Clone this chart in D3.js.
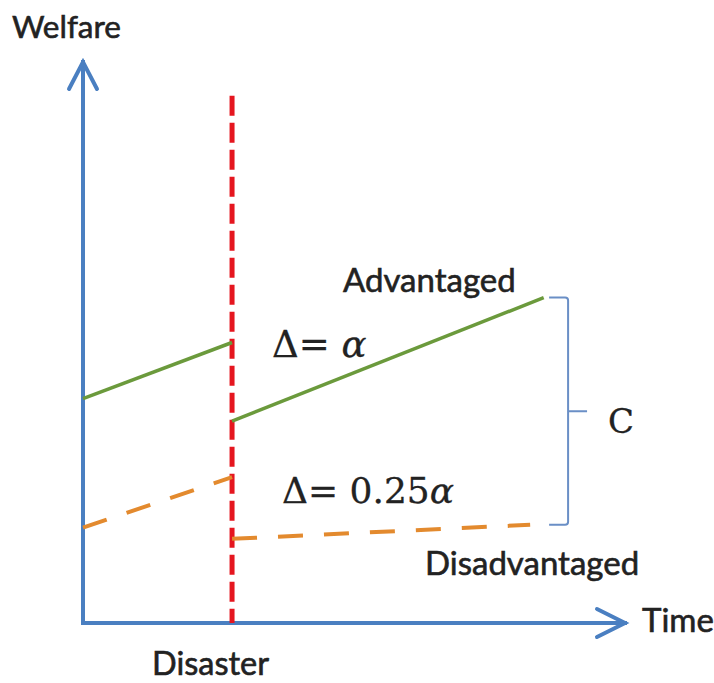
<!DOCTYPE html>
<html>
<head>
<meta charset="utf-8">
<script src="https://cdn.jsdelivr.net/npm/d3@7"></script>
<style>
  body { margin: 0; background: #fff; }
  .lbl { font-family: Lato, "Open Sans", sans-serif; fill: #222; stroke: #222; stroke-width: 0.6; }
  .math { font-family: "DejaVu Serif", "Liberation Serif", serif; fill: #222; stroke: #222; stroke-width: 0.3; }
</style>
</head>
<body>
<div class="chart"></div>
<script>
var svgWidth = 714;
var svgHeight = 683;

// time / welfare values (arbitrary units 0..10)
var disasterTime = 2.75;
var disasterTop = 9.4;
var advantagedBefore = [[0, 4.0], [2.75, 5.0]];
var advantagedAfter = [[2.75, 3.6], [8.5, 5.8]];
var disadvantagedBefore = [[0, 1.7], [2.75, 2.6]];
var disadvantagedAfter = [[2.75, 1.5], [8.25, 1.75]];
var bracketRange = [1.75, 5.8];

var svg = d3.select(".chart")
  .append("svg")
  .attr("width", svgWidth)
  .attr("height", svgHeight);

var x = d3.scaleLinear().domain([0, 10]).range([83, 625]);
var y = d3.scaleLinear().domain([0, 10]).range([623, 62]);

var line = d3.line()
  .x(d => x(d[0]))
  .y(d => y(d[1]));

var axisColor = "#4a7fc1";

// axes with open arrow heads
svg.append("path")
  .attr("d", line([[0, 10], [0, 0], [10, 0]]))
  .attr("fill", "none")
  .attr("stroke", axisColor)
  .attr("stroke-width", 4)
  .attr("stroke-linejoin", "miter")
  .attr("stroke-linecap", "square");

svg.append("path")
  .attr("d", `M${x(0) - 14},${y(10) + 27} L${x(0)},${y(10)} L${x(0) + 14},${y(10) + 27}`)
  .attr("fill", "none")
  .attr("stroke", axisColor)
  .attr("stroke-width", 4)
  .attr("stroke-linecap", "round");

svg.append("path")
  .attr("d", `M${x(10) - 28},${y(0) - 14} L${x(10)},${y(0)} L${x(10) - 28},${y(0) + 14}`)
  .attr("fill", "none")
  .attr("stroke", axisColor)
  .attr("stroke-width", 4)
  .attr("stroke-linecap", "round");

// disaster line
svg.append("path")
  .attr("d", line([[disasterTime, disasterTop], [disasterTime, 0]]))
  .attr("stroke", "#e5161f")
  .attr("stroke-width", 5)
  .attr("stroke-dasharray", "20,7");

// advantaged (solid green)
[advantagedBefore, advantagedAfter].forEach(function(seg) {
  svg.append("path")
    .attr("d", line(seg))
    .attr("fill", "none")
    .attr("stroke", "#6b9a3c")
    .attr("stroke-width", 3.5);
});

// disadvantaged (dashed orange)
[disadvantagedBefore, disadvantagedAfter].forEach(function(seg) {
  svg.append("path")
    .attr("d", line(seg))
    .attr("fill", "none")
    .attr("stroke", "#e38a2e")
    .attr("stroke-width", 4)
    .attr("stroke-dasharray", "25,21");
});

// bracket C
var bx0 = x(8.6), bx1 = x(8.95), bx2 = x(9.3);
var by0 = y(bracketRange[1]), by1 = y(bracketRange[0]);
var bym = (by0 + by1) / 2;
svg.append("path")
  .attr("d", `M${bx0},${by0} L${bx1 - 3},${by0} Q${bx1},${by0} ${bx1},${by0 + 3} L${bx1},${by1 - 3} Q${bx1},${by1} ${bx1 - 3},${by1} L${bx0},${by1} M${bx1},${bym} L${bx2},${bym}`)
  .attr("fill", "none")
  .attr("stroke", "#6a8fc6")
  .attr("stroke-width", 2);

// labels
svg.append("text").attr("class", "lbl")
  .attr("x", 12).attr("y", 38)
  .attr("font-size", 31.5)
  .text("Welfare");

svg.append("text").attr("class", "lbl")
  .attr("x", 642).attr("y", 632)
  .attr("font-size", 33)
  .text("Time");

svg.append("text").attr("class", "lbl")
  .attr("x", 152).attr("y", 675)
  .attr("font-size", 32.5)
  .text("Disaster");

svg.append("text").attr("class", "lbl")
  .attr("x", 343).attr("y", 292)
  .attr("font-size", 33)
  .text("Advantaged");

svg.append("text").attr("class", "lbl")
  .attr("x", 425).attr("y", 575)
  .attr("font-size", 33)
  .text("Disadvantaged");

var t1 = svg.append("text").attr("class", "math")
  .attr("x", 272).attr("y", 357)
  .attr("font-size", 37);
t1.append("tspan").text("\u0394= ");
t1.append("tspan").attr("font-style", "italic").text("\u03b1");

var t2 = svg.append("text").attr("class", "math")
  .attr("x", 282).attr("y", 503)
  .attr("font-size", 36);
t2.append("tspan").text("\u0394= 0.25");
t2.append("tspan").attr("font-style", "italic").text("\u03b1");

svg.append("text").attr("class", "math")
  .attr("x", 608).attr("y", 433)
  .attr("font-size", 34)
  .text("C");
</script>
</body>
</html>
